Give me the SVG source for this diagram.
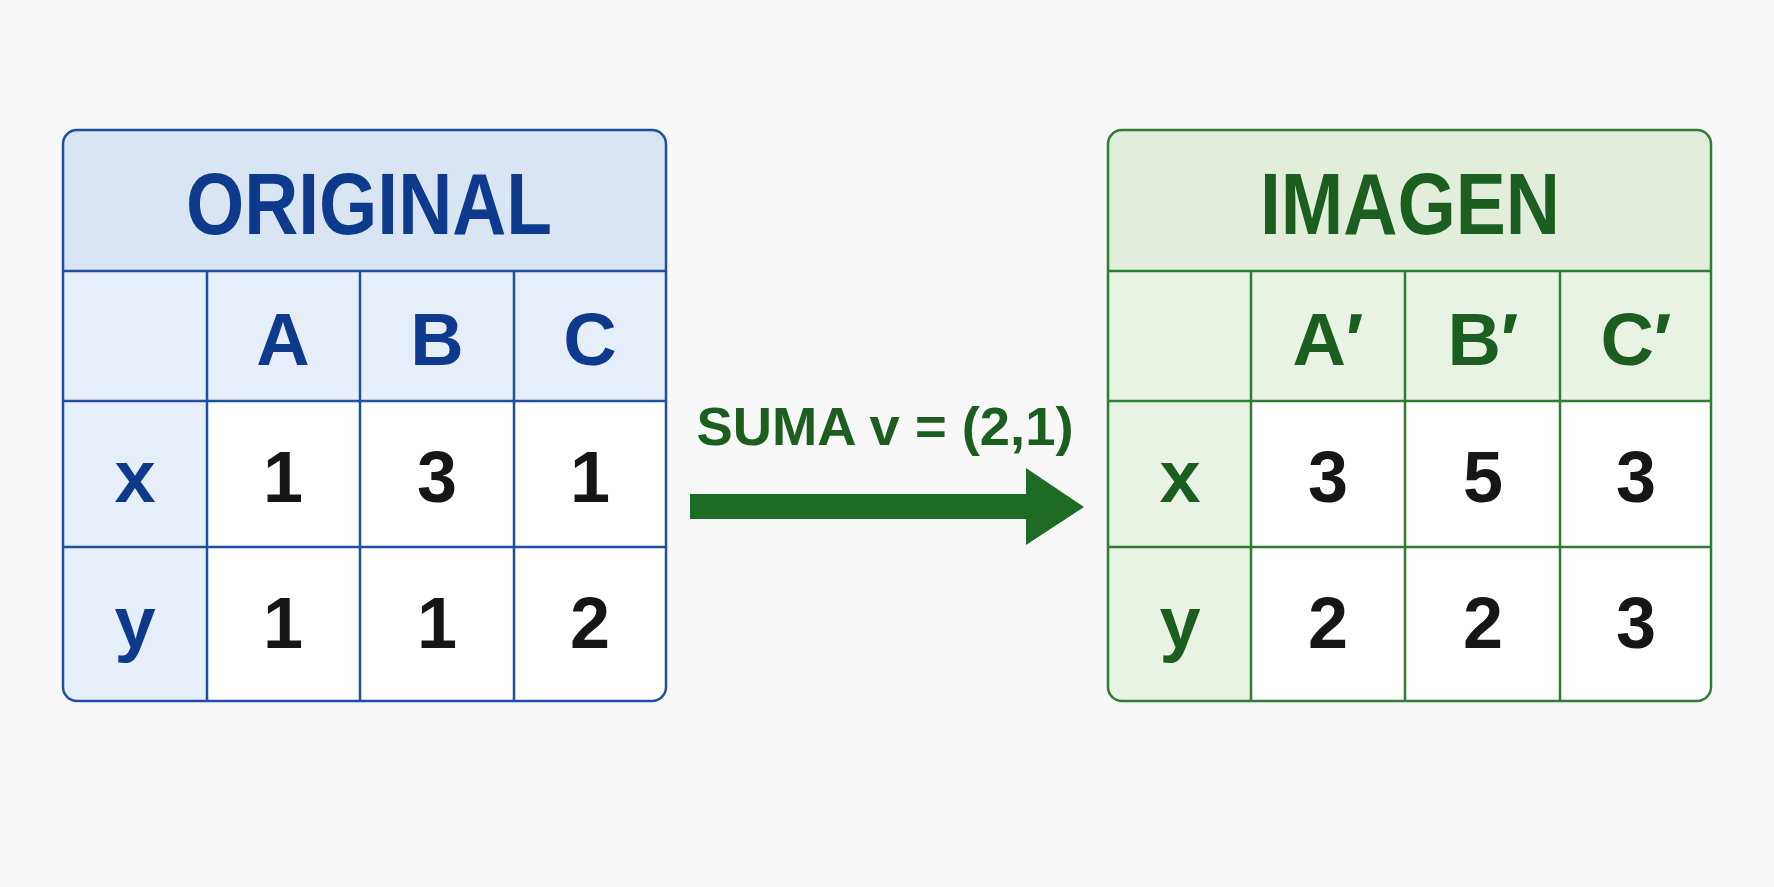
<svg xmlns="http://www.w3.org/2000/svg" width="1774" height="887" viewBox="0 0 1774 887">
<defs>
<style>
.t{font-family:"Liberation Sans",Arial,sans-serif;font-weight:bold;text-anchor:middle}
.num{fill:#161616;font-size:72px}
.bl{fill:#0d3a8c}.gr{fill:#1b5e20}
.lb{stroke:#1f4fa0;stroke-width:2.5;fill:none}
.lg{stroke:#2e7d32;stroke-width:2.5;fill:none}
</style>
<clipPath id="cl"><rect x="63" y="130" width="603" height="571" rx="14"/></clipPath>
<clipPath id="cr"><rect x="1108" y="130" width="603" height="571" rx="14"/></clipPath>
</defs>
<rect width="1774" height="887" fill="#f8f8f8"/>
<g id="original">
<g clip-path="url(#cl)">
<rect x="63" y="130" width="603" height="571" fill="#fff"/>
<rect x="63" y="130" width="603" height="141" fill="#dae5f4"/>
<rect x="63" y="271" width="603" height="130" fill="#e6eef9"/>
<rect x="63" y="401" width="144" height="300" fill="#e6eef9"/>
</g>
<rect class="lb" x="63" y="130" width="603" height="571" rx="14"/>
<path class="lb" d="M63 271H666M63 401H666M63 547H666M207 271V701M360 271V701M514 271V701"/>
<text class="t bl" x="369" y="234" font-size="88" textLength="366" lengthAdjust="spacingAndGlyphs">ORIGINAL</text>
<text class="t bl" x="283" y="365" font-size="74">A</text>
<text class="t bl" x="437" y="365" font-size="74">B</text>
<text class="t bl" x="590" y="365" font-size="74">C</text>
<text class="t bl" x="135" y="502" font-size="74">x</text>
<text class="t bl" x="135" y="648" font-size="74">y</text>
<text class="t num" x="283" y="502">1</text><text class="t num" x="437" y="502">3</text><text class="t num" x="590" y="502">1</text>
<text class="t num" x="283" y="648">1</text><text class="t num" x="437" y="648">1</text><text class="t num" x="590" y="648">2</text>
</g>
<g id="imagen">
<g clip-path="url(#cr)">
<rect x="1108" y="130" width="603" height="571" fill="#fff"/>
<rect x="1108" y="130" width="603" height="141" fill="#e2eedb"/>
<rect x="1108" y="271" width="603" height="130" fill="#e9f3e4"/>
<rect x="1108" y="401" width="143" height="300" fill="#e9f3e4"/>
</g>
<rect class="lg" x="1108" y="130" width="603" height="571" rx="14"/>
<path class="lg" d="M1108 271H1711M1108 401H1711M1108 547H1711M1251 271V701M1405 271V701M1560 271V701"/>
<text class="t gr" x="1410" y="234" font-size="88" textLength="300" lengthAdjust="spacingAndGlyphs">IMAGEN</text>
<text class="t gr" x="1328" y="365" font-size="74">A′</text>
<text class="t gr" x="1483" y="365" font-size="74">B′</text>
<text class="t gr" x="1636" y="365" font-size="74">C′</text>
<text class="t gr" x="1180" y="502" font-size="74">x</text>
<text class="t gr" x="1180" y="648" font-size="74">y</text>
<text class="t num" x="1328" y="502">3</text><text class="t num" x="1483" y="502">5</text><text class="t num" x="1636" y="502">3</text>
<text class="t num" x="1328" y="648">2</text><text class="t num" x="1483" y="648">2</text><text class="t num" x="1636" y="648">3</text>
</g>
<g id="connectors">
<path d="M690 494H1026V468L1084 507L1026 545V519H690Z" fill="#1e6b24"/>
<text class="t gr" x="885" y="445" font-size="54" textLength="377" lengthAdjust="spacingAndGlyphs">SUMA v = (2,1)</text>
</g>
</svg>
